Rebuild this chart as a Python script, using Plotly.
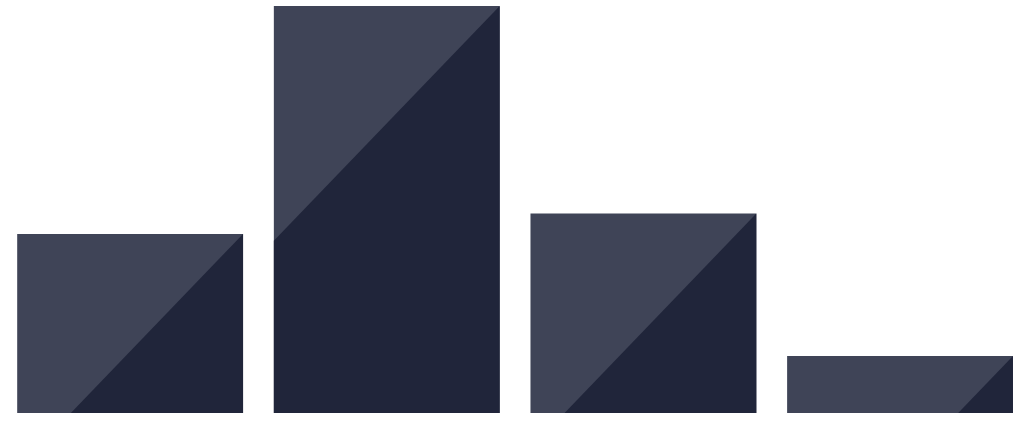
import plotly.graph_objects as go

# Data
categories = ["A", "B", "C", "D"]
values = [44, 100, 49, 14]

light = "#3f4457"
dark = "#20253a"

W, H = 1024, 442
x_range = [-0.507, 3.483]
y_range = [-7.13, 101.47]
bar_width = 0.88
slope_px = 1.04  # steepness of the split line, in screen pixels

# convert the on-screen slope into data units
px_per_x = W / (x_range[1] - x_range[0])
px_per_y = H / (y_range[1] - y_range[0])
k = slope_px * px_per_x / px_per_y

xs = list(range(len(categories)))

fig = go.Figure()
fig.add_bar(x=xs, y=values, width=bar_width,
            marker=dict(color=light, line=dict(width=0)),
            hovertext=categories, hoverinfo="text+y")

# darker lower-right triangle of each bar
for x, v in zip(xs, values):
    left, right = x - bar_width / 2, x + bar_width / 2
    run = v / k
    if run <= bar_width:
        tx = [right, right, right - run, right]
        ty = [v, 0, 0, v]
    else:
        tx = [right, right, left, left, right]
        ty = [v, 0, 0, v - k * bar_width, v]
    fig.add_scatter(x=tx, y=ty, mode="lines", fill="toself",
                    fillcolor=dark, line=dict(width=0, color=dark),
                    hoverinfo="skip")

fig.update_layout(
    width=W, height=H,
    margin=dict(l=0, r=0, t=0, b=0),
    showlegend=False,
    plot_bgcolor="white",
    paper_bgcolor="white",
    xaxis=dict(range=x_range, visible=False, fixedrange=True),
    yaxis=dict(range=y_range, visible=False, fixedrange=True),
)

# drop the browser's default page margin so the figure sits at 0,0
fig.write_html("out.html",
               config={"displayModeBar": False},
               post_script="document.body.style.margin='0';document.body.style.overflow='hidden';")
